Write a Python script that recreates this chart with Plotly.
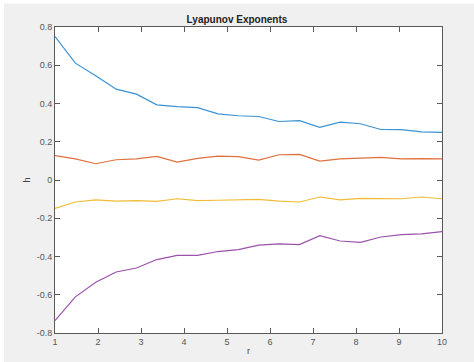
import numpy as np
import plotly.graph_objects as go

r = np.linspace(1, 10, 20)

h1 = [0.750, 0.611, 0.545, 0.475, 0.449, 0.393, 0.384, 0.378, 0.346, 0.336,
      0.332, 0.306, 0.310, 0.275, 0.303, 0.294, 0.264, 0.263, 0.252, 0.249]
h2 = [0.127, 0.110, 0.085, 0.106, 0.110, 0.123, 0.094, 0.113, 0.125, 0.122,
      0.104, 0.132, 0.134, 0.099, 0.110, 0.115, 0.118, 0.110, 0.112, 0.110]
h3 = [-0.148, -0.115, -0.104, -0.110, -0.108, -0.112, -0.098, -0.108, -0.106, -0.104,
      -0.101, -0.110, -0.115, -0.089, -0.104, -0.096, -0.096, -0.098, -0.089, -0.098]
h4 = [-0.735, -0.611, -0.535, -0.481, -0.460, -0.416, -0.394, -0.394, -0.374, -0.364,
      -0.341, -0.334, -0.338, -0.291, -0.319, -0.326, -0.298, -0.286, -0.282, -0.270]

series = [h1, h2, h3, h4]
colors = ["#3a93d4", "#e0703e", "#f0bc3a", "#9a52aa"]

x_ticks = list(range(1, 11))
y_ticks = [0.8, 0.6, 0.4, 0.2, 0, -0.2, -0.4, -0.6, -0.8]
y_tick_text = ["0.8", "0.6", "0.4", "0.2", "0", "-0.2", "-0.4", "-0.6", "-0.8"]

FONT = "Liberation Sans, Arial, sans-serif"

fig = go.Figure()
for s, c in zip(series, colors):
    fig.add_trace(go.Scatter(x=r, y=s, mode="lines", line=dict(color=c, width=1.2),
                             showlegend=False, hoverinfo="skip"))

axis_common = dict(
    showgrid=False, zeroline=False, showline=True, linecolor="#5a5a5a", linewidth=1,
    mirror="ticks", ticks="inside", ticklen=5, tickcolor="#5a5a5a", tickwidth=1,
    automargin=False,
    tickfont=dict(family=FONT, size=9, color="#555555"),
)

fig.update_layout(
    width=474, height=362,
    margin=dict(l=55, r=32, t=27, b=29),
    paper_bgcolor="#f0f0f0",
    plot_bgcolor="white",
    title=dict(text="<b>Lyapunov Exponents</b>", x=0.5, xanchor="center",
               y=1 - 19 / 362, yanchor="middle",
               font=dict(family=FONT, size=10, color="#222222")),
    xaxis=dict(range=[1, 10], tickvals=x_ticks,
               title=dict(text="r", standoff=1,
                          font=dict(family=FONT, size=9, color="#444444")),
               **axis_common),
    yaxis=dict(range=[-0.8, 0.8], tickvals=y_ticks, ticktext=y_tick_text,
               title=dict(text="h", standoff=4,
                          font=dict(family=FONT, size=9, color="#444444")),
               **axis_common),
    shapes=[
        dict(type="rect", xref="paper", yref="paper", x0=-1, x1=2, y0=1 + 23.5 / 306, y1=2,
             fillcolor="white", line=dict(width=0), layer="below"),
        dict(type="rect", xref="paper", yref="paper", x0=-1, x1=-51 / 387, y0=-1, y1=2,
             fillcolor="white", line=dict(width=0), layer="below"),
    ],
)

fig.write_html("out.html")
